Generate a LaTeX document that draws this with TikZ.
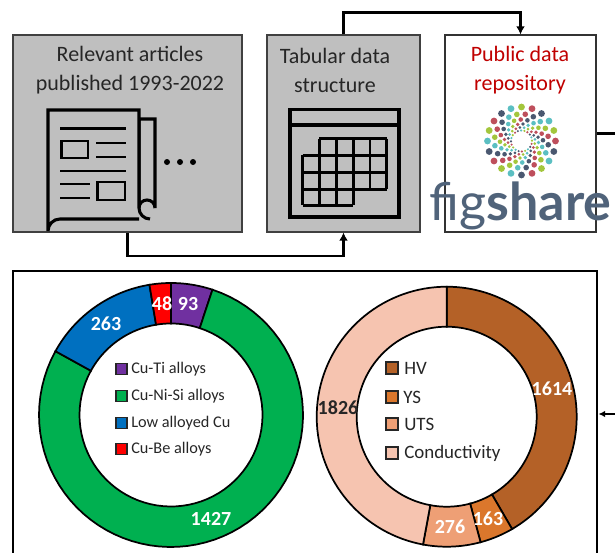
\documentclass[tikz,border=0pt]{standalone}
\usepackage{fontspec}
\setmainfont{Carlito}
\newfontfamily\logofont{Lato}
\usetikzlibrary{arrows.meta}
\definecolor{boxgray}{HTML}{BFBFBF}
\definecolor{ink}{HTML}{262626}
\definecolor{cuti}{HTML}{7030A0}
\definecolor{cuni}{HTML}{00B050}
\definecolor{culow}{HTML}{0070C0}
\definecolor{cube}{HTML}{FF0000}
\definecolor{hv}{HTML}{B46127}
\definecolor{ys}{HTML}{DB772C}
\definecolor{uts}{HTML}{EE9F75}
\definecolor{cond}{HTML}{F6C4B0}
\definecolor{repored}{HTML}{C00000}
\definecolor{logoink}{HTML}{50637A}
\definecolor{lgreen}{HTML}{A3C63C}
\definecolor{lred}{HTML}{BE4F5C}
\definecolor{ldark}{HTML}{4A5870}
\definecolor{lteal}{HTML}{5BBFC2}
\tikzset{
  panel/.style={draw=black!75,line width=0.8pt,fill=boxgray,inner sep=0pt},
  repo/.style={draw=black!80,line width=0.8pt,fill=white,inner sep=0pt},
  title/.style={align=center,text=ink,inner sep=0pt,font=\fontsize{16.5}{21.75}\selectfont},
  flow/.style={draw=black,line width=1.6pt,rounded corners=0pt},
  flowtip/.style={-{Latex[length=6pt,width=6.5pt]}},
  icon/.style={draw=black,line width=2.3pt},
  iconthin/.style={draw=black,line width=2.1pt},
  seg/.style={draw=black,line width=1.3pt},
  key/.style={draw=black!85,line width=1pt,minimum size=8.2pt,inner sep=0pt},
  lefttext/.style={anchor=west,text=ink,inner sep=0pt,font=\fontsize{12.2}{14}\selectfont},
  righttext/.style={anchor=west,text=ink,inner sep=0pt,font=\fontsize{14.2}{16}\selectfont},
  val/.style={text=white,inner sep=0pt,font=\bfseries\fontsize{15}{16}\selectfont},
}
% centre x, centre y, inner r, outer r, start, end (clockwise from top), colour
\newcommand{\ringseg}[7]{%
  \draw[seg,fill=#7,shift={(#1,#2)}] plot[domain=#5-90:#6-90,samples=70] (\x:#4)
    -- plot[domain=#6-90:#5-90,samples=70] (\x:#3) -- cycle;}
\begin{document}
\begin{tikzpicture}[x=0.75pt,y=-0.75pt]
\useasboundingbox (0,0) rectangle (615,553);
% panels
\node[panel,minimum width=171.75pt,minimum height=147.75pt] (articles) at (127.5,133.5) {};
\node[panel,minimum width=114.75pt,minimum height=147.75pt] (tabular) at (343.5,133.5) {};
\node[repo,minimum width=113.25pt,minimum height=147.75pt] (repository) at (520.5,133.5) {};
\node[title] (articlestext) at (130,70.5) {Relevant articles\\published 1993-2022};
\node[title] (tabulartext) at (335,70.5) {Tabular data\\structure};
\node[title,text=repored] (repotext) at (520,70.5) {Public data\\repository};
% newspaper icon
\draw[icon,line join=miter] (139,119) -- (155,119) -- (155,208) arc[start angle=0,end angle=-180,radius=8] -- (139,119);
\draw[icon,fill=boxgray] (139,219) -- (60,219) arc[start angle=-90,end angle=-180,radius=12] -- (48,110) -- (139,110) -- (139,208)
  arc[start angle=180,end angle=90,radius=11];
\draw[iconthin] (60,128.7) -- (126,128.7) (96,143) -- (126,143) (96,157) -- (126,157)
  (60,171) -- (126,171) (60,184) -- (90,184) (60,198) -- (90,198);
\draw[iconthin] (61.5,141) rectangle (88,158) (97.5,182) rectangle (125,200);
\fill[black] (167,162) circle[radius=3] (180,162) circle[radius=3] (193,162) circle[radius=3];
% table icon
\draw[icon] (290,109.5) rectangle (399,217) (290,125) -- (399,125);
\draw[iconthin] (319.3,138.7) -- (386.7,138.7) (302.7,155.3) -- (386.7,155.3) (302.7,172.7) -- (386.7,172.7)
  (302.7,189.3) -- (386.7,189.3) (302.7,205.3) -- (353.3,205.3)
  (302.7,155.3) -- (302.7,205.3) (319.3,138.7) -- (319.3,205.3) (336.7,138.7) -- (336.7,205.3)
  (353.3,138.7) -- (353.3,205.3) (370,138.7) -- (370,189.3) (386.7,138.7) -- (386.7,189.3);
% figshare logo
\begin{scope}[shift={(521.5,141)}]
\foreach \k [count=\n from 0] in {lgreen,lred,ldark,lteal,lgreen,lred,ldark,lteal,lgreen,lred,ldark,lteal,lgreen,lred,ldark,lteal,lgreen,lred,ldark,lteal}{
  \foreach \rr/\ds/\tw in {34/3.4/0,27/2.8/-10,21.5/2.3/-20,17/1.9/-31,13.5/1.5/-43,10.5/1.2/-56}{
    \fill[\k] ({\n*18-90+\tw}:\rr) circle[radius=\ds];
  }
}
\end{scope}
\node[anchor=base,inner sep=0pt,text=logoink,font=\logofont\fontsize{39}{40}\selectfont] (logotext) at (520.5,220.5) {fig\textbf{share}};
% connectors
\coordinate (exit) at (615,133.5);
\coordinate (enter) at (598.5,414);
\coordinate (enterstart) at (615,414);
\draw[flow,flowtip] (articles.south) -- ++(0,23.5) -| (tabular.south);
\draw[flow,flowtip] (tabular.north) -- ++(0,-22) -| (repository.north);
\draw[flow] (repository.east) -- (exit);
\draw[draw=black,line width=1.3pt,-{Latex[length=5pt,width=5pt]}] (enterstart) -- (enter);
% frame
\draw[black,line width=1.3pt] (13,553) -- (13,271) -- (597,271) -- (597,553);
% left donut
\ringseg{171}{415}{91.5}{132}{0}{18.3}{cuti}
\ringseg{171}{415}{91.5}{132}{18.3}{298.9}{cuni}
\ringseg{171}{415}{91.5}{132}{298.9}{350.6}{culow}
\ringseg{171}{415}{91.5}{132}{350.6}{360}{cube}
\node[val] (v93) at (188,304) {93};
\node[val] (v48) at (162,304) {48};
\node[val] (v263) at (106,324) {263};
\node[val] (v1427) at (211,519) {1427};
\node[key,fill=cuti] (k1) at (121.5,369) {};
\node[key,fill=cuni] (k2) at (121.5,396) {};
\node[key,fill=culow] (k3) at (121.5,423) {};
\node[key,fill=cube] (k4) at (121.5,449) {};
\node[lefttext] (t1) at (131,369) {Cu-Ti alloys};
\node[lefttext] (t2) at (131,396) {Cu-Ni-Si alloys};
\node[lefttext] (t3) at (131,423) {Low alloyed Cu};
\node[lefttext] (t4) at (131,449) {Cu-Be alloys};
% right donut
\ringseg{446.7}{416.7}{90}{130}{0}{149.8}{hv}
\ringseg{446.7}{416.7}{90}{130}{149.8}{164.9}{ys}
\ringseg{446.7}{416.7}{90}{130}{164.9}{190.5}{uts}
\ringseg{446.7}{416.7}{90}{130}{190.5}{360}{cond}
\node[val] (v1614) at (552,389) {1614};
\node[val,text=ink] (v1826) at (338,408) {1826};
\node[val] (v276) at (450,527) {276};
\node[val] (v163) at (488,519) {163};
\node[key,minimum size=9.2pt,fill=hv] (k5) at (392,368) {};
\node[key,minimum size=9.2pt,fill=ys] (k6) at (392,397) {};
\node[key,minimum size=9.2pt,fill=uts] (k7) at (392,424) {};
\node[key,minimum size=9.2pt,fill=cond] (k8) at (392,453) {};
\node[righttext] (t5) at (404,368) {HV};
\node[righttext] (t6) at (403,397) {YS};
\node[righttext] (t7) at (404,424) {UTS};
\node[righttext] (t8) at (404,453) {Conductivity};
\end{tikzpicture}
\end{document}
